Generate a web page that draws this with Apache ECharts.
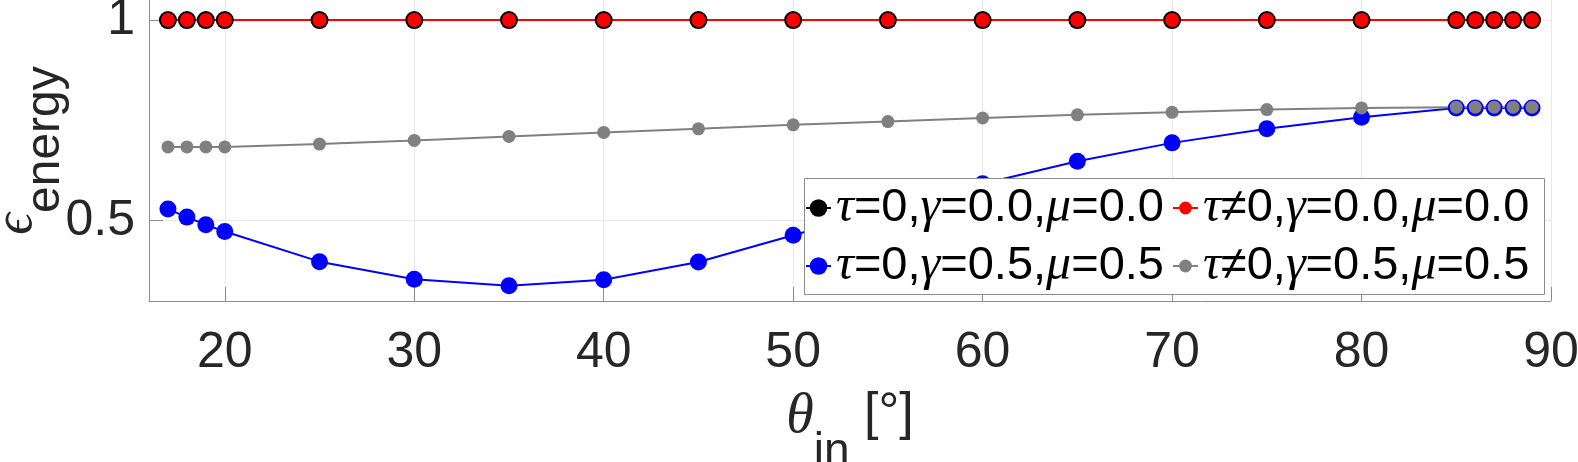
<!DOCTYPE html>
<html>
<head>
<meta charset="utf-8">
<script src="https://cdn.jsdelivr.net/npm/echarts@6/dist/echarts.min.js"></script>
<style>
  html, body { margin: 0; padding: 0; background: #fff; }
  #chart { width: 1578px; height: 462px; }
</style>
</head>
<body>
<div id="chart"></div>
<script>
// incidence angles (deg)
const thetaIn = [17, 18, 19, 20, 25, 30, 35, 40, 45, 50, 55, 60, 65, 70, 75, 80, 85, 86, 87, 88, 89]

// energy coefficient per case
const tau0Smooth = [1, 1, 1, 1, 1, 1, 1, 1, 1, 1, 1, 1, 1, 1, 1, 1, 1, 1, 1, 1, 1]
const tauSmooth = [1, 1, 1, 1, 1, 1, 1, 1, 1, 1, 1, 1, 1, 1, 1, 1, 1, 1, 1, 1, 1]
const tau0Rough = [0.529, 0.509, 0.490, 0.473, 0.398, 0.354, 0.338, 0.353, 0.397, 0.464, 0.530,
  0.592, 0.648, 0.694, 0.729, 0.758, 0.781, 0.781, 0.781, 0.781, 0.781]
const tauRough = [0.684, 0.684, 0.684, 0.684, 0.691, 0.700, 0.710, 0.720, 0.729, 0.739, 0.747,
  0.756, 0.764, 0.770, 0.777, 0.781, 0.783, 0.783, 0.783, 0.783, 0.783]

const seriesNames = ['τ=0,γ=0.0,μ=0.0', 'τ≠0,γ=0.0,μ=0.0', 'τ=0,γ=0.5,μ=0.5', 'τ≠0,γ=0.5,μ=0.5']

const xTicks = [20, 30, 40, 50, 60, 70, 80, 90]
const yTicks = [0.5, 1]

const SANS = "'Liberation Sans', Arial, sans-serif"
const SERIF = "'Liberation Serif', 'DejaVu Serif', serif"
const AXIS_GRAY = '#8c8c8c'

function pairs(ys) {
  return thetaIn.map((x, i) => [x, ys[i]])
}

// wrap greek letters in an italic serif style, rest in sans
function legendText(name) {
  let out = ''
  for (const ch of name) {
    if ('τγμ'.includes(ch)) out += '{g|' + ch + '}'
    else out += '{n|' + ch + '}'
  }
  return out
}

const legendRich = {
  n: { fontFamily: SANS, fontSize: 47, color: '#000', lineHeight: 50 },
  g: { fontFamily: SERIF, fontStyle: 'italic', fontSize: 50, color: '#000', lineHeight: 50 },
}

function lineSeries(name, ys, color, size) {
  return {
    name,
    type: 'line',
    data: pairs(ys),
    symbol: 'circle',
    symbolSize: size,
    showAllSymbol: true,
    lineStyle: { color, width: 2 },
    itemStyle: { color },
  }
}

function buildOption() {
  return {
    animation: false,
    backgroundColor: '#fff',
    grid: { left: 149, right: 27, top: 0, bottom: 161, outerBoundsMode: 'none', containLabel: false },
    xAxis: {
      type: 'value',
      min: 16,
      max: 90,
      name: '{t|θ}{s|in}{b| [°]}',
      nameLocation: 'middle',
      nameGap: 88,
      nameMoveOverlap: false,
      nameTextStyle: {
        rich: {
          t: { fontFamily: SERIF, fontStyle: 'italic', fontSize: 56, color: '#262626', verticalAlign: 'top', lineHeight: 50 },
          s: { fontFamily: SANS, fontSize: 46, color: '#262626', verticalAlign: 'bottom', lineHeight: 86 },
          b: { fontFamily: SANS, fontSize: 52, color: '#262626', verticalAlign: 'top', lineHeight: 62 },
        },
      },
      axisLine: { lineStyle: { color: AXIS_GRAY, width: 1 } },
      axisTick: { inside: true, length: 14, customValues: xTicks, lineStyle: { color: AXIS_GRAY } },
      axisLabel: {
        customValues: xTicks,
        margin: 27,
        fontFamily: SANS,
        fontSize: 50,
        color: '#262626',
      },
      splitLine: { show: true, lineStyle: { color: '#e8e8e8', width: 1 } },
    },
    yAxis: {
      type: 'value',
      min: 0.3,
      max: 1.05,
      name: '{e|ϵ}{s|energy}',
      nameLocation: 'middle',
      nameRotate: 90,
      nameGap: 79,
      nameMoveOverlap: false,
      nameTextStyle: {
        rich: {
          e: { fontFamily: SERIF, fontStyle: 'italic', fontSize: 54, color: '#262626', verticalAlign: 'top', lineHeight: 40 },
          s: { fontFamily: SANS, fontSize: 48, color: '#262626', verticalAlign: 'bottom', lineHeight: 80 },
        },
      },
      axisLine: { show: true, lineStyle: { color: AXIS_GRAY, width: 1 } },
      axisTick: { show: true, inside: true, length: 14, customValues: yTicks, lineStyle: { color: AXIS_GRAY } },
      axisLabel: {
        customValues: yTicks,
        margin: 14,
        fontFamily: SANS,
        fontSize: 50,
        color: '#262626',
        formatter: (v) => String(v),
      },
      splitLine: { show: true, lineStyle: { color: '#e8e8e8', width: 1 } },
    },
    legend: [
      {
        data: [seriesNames[0], seriesNames[2]],
        orient: 'vertical',
        left: 805,
        top: 183,
        padding: 0,
        itemGap: 8,
        itemWidth: 25,
        itemHeight: 22,
        z: 5,
        formatter: legendText,
        textStyle: { rich: legendRich },
      },
      {
        data: [seriesNames[1], seriesNames[3]],
        orient: 'vertical',
        left: 1172,
        top: 183,
        padding: 0,
        itemGap: 8,
        itemWidth: 25,
        itemHeight: 16,
        z: 5,
        formatter: legendText,
        textStyle: { rich: legendRich },
      },
    ],
    graphic: [
      {
        type: 'rect',
        z: 4,
        shape: { x: 804.5, y: 178.5, width: 740, height: 116 },
        style: { fill: '#fff', stroke: AXIS_GRAY, lineWidth: 1 },
      },
    ],
    series: [
      lineSeries(seriesNames[0], tau0Smooth, '#000000', 18),
      lineSeries(seriesNames[1], tauSmooth, '#ff0000', 14),
      lineSeries(seriesNames[2], tau0Rough, '#0000ff', 17),
      lineSeries(seriesNames[3], tauRough, '#808080', 13),
    ],
  }
}

const chart = echarts.init(document.getElementById('chart'))
chart.setOption(buildOption())
</script>
</body>
</html>
